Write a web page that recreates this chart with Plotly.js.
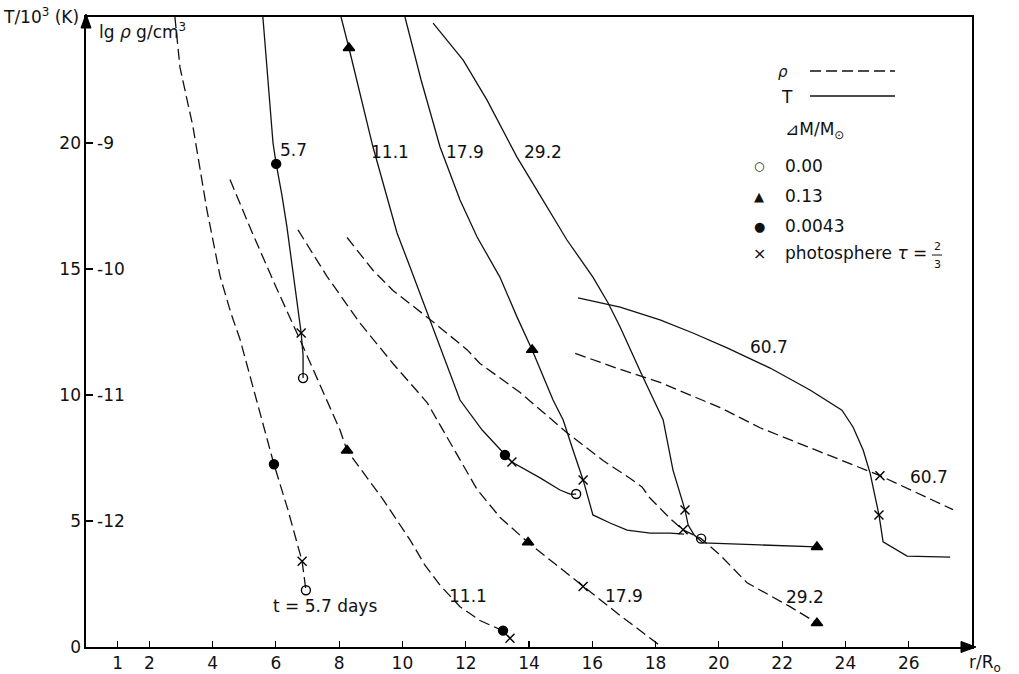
<!DOCTYPE html>
<html><head><meta charset="utf-8">
<script src="https://cdn.plot.ly/plotly-3.0.1.min.js"></script>
<style>body{margin:0;background:#fff}#chart{width:1019px;height:674px}</style>
</head><body><div id="chart"></div>
<script>
// ---- axis ticks ----
const xTicks = [1,2,4,6,8,10,12,14,16,18,20,22,24,26];
const tTicks = [0,5,10,15,20];
const rhoTicks = [-12,-11,-10,-9];
const rhoTickText = ['-12','-11','-10','-9'];

// marker codes: '' none, 'o' dM=0.00, 't' dM=0.13, 'f' dM=0.0043, 'x' photosphere
// ---- temperature curves (r/R0, T/10^3 K) ----
const T57_r = [5.59,5.75,5.91,6.01,6.19,6.35,6.57,6.80,6.86,6.86];
const T57_v = [25.0,22.62,20.0,19.17,17.94,16.67,14.56,12.46,11.59,10.67];
const T57_m = ['','','','f','','','','x','','o'];

const T111_r = [8.06,8.31,9.07,9.83,10.24,10.87,11.41,11.82,12.52,13.24,13.46,14.35,14.98,15.30,15.49];
const T111_v = [25.0,23.77,19.84,16.43,15.08,12.98,11.11,9.80,8.61,7.62,7.34,6.71,6.23,6.07,6.07];
const T111_m = ['','t','','','','','','','','f','x','','','','o'];

const T179_r = [10.08,10.59,11.19,11.82,12.36,13.08,13.62,14.10,14.76,15.08,15.39,15.71,16.02,16.56,17.10,17.83,18.46,18.90];
const T179_v = [25.0,22.5,19.84,17.74,16.27,14.68,13.10,11.79,9.80,9.01,7.82,6.63,5.24,4.92,4.64,4.52,4.52,4.48];
const T179_m = ['','','','','','','','t','','','','x','','','','','',''];

const T292_r = [10.97,11.92,12.67,13.62,14.25,15.20,16.02,16.50,16.88,17.57,18.24,18.55,18.93,19.03,19.22,19.50,21.30,23.10];
const T292_v = [24.76,23.29,21.71,19.44,18.13,16.15,14.68,13.65,12.70,10.79,9.01,7.02,5.44,4.84,4.44,4.13,4.05,3.97];
const T292_m = ['','','','','','','','','','','','','x','','','','','t'];

const T607_r = [15.55,16.88,18.14,19.18,20.26,21.62,22.88,23.89,24.24,24.56,24.78,25.06,25.19,25.95,27.31];
const T607_v = [13.85,13.49,12.98,12.46,11.87,11.07,10.20,9.40,8.73,7.82,6.90,5.24,4.17,3.61,3.57];
const T607_m = ['','','','','','','','','','','','x','','',''];

// ---- density curves (r/R0, lg rho g/cm^3) ----
const R57_r = [2.81,2.97,3.38,3.82,4.24,4.58,4.87,5.66,5.94,6.38,6.83,6.95];
const R57_v = [-8.0,-8.40,-8.87,-9.53,-10.06,-10.35,-10.56,-11.28,-11.55,-11.91,-12.32,-12.55];
const R57_m = ['','','','','','','','','f','','x','o'];

const R111_r = [4.55,5.25,6.0,6.76,8.03,8.25,9.39,10.24,10.71,11.19,11.82,12.45,13.08,13.18,13.40];
const R111_v = [-9.29,-9.71,-10.14,-10.56,-11.28,-11.44,-11.83,-12.15,-12.35,-12.51,-12.68,-12.79,-12.86,-12.87,-12.93];
const R111_m = ['','','','','','t','','','','','','','','f','x'];

const R179_r = [6.70,7.62,8.66,9.70,10.78,11.28,12.36,13.08,13.97,14.82,15.71,16.88,18.2];
const R179_v = [-9.69,-10.06,-10.43,-10.75,-11.06,-11.28,-11.75,-11.97,-12.17,-12.34,-12.52,-12.75,-13.0];
const R179_m = ['','','','','','','','','t','','x','',''];

const R292_r = [8.25,9.07,9.70,10.87,12.04,12.45,13.72,15.20,16.34,17.19,17.57,17.83,18.46,18.87,19.44,20.04,20.89,22.25,23.10];
const R292_v = [-9.75,-10.01,-10.17,-10.40,-10.64,-10.75,-10.98,-11.30,-11.52,-11.66,-11.73,-11.82,-11.98,-12.07,-12.14,-12.27,-12.49,-12.68,-12.81];
const R292_m = ['','','','','','','','','','','','','','x','o','','','','t'];

const R607_r = [15.46,16.81,18.14,20.04,21.30,23.10,25.09,27.40];
const R607_v = [-10.67,-10.79,-10.90,-11.10,-11.26,-11.44,-11.64,-11.91];
const R607_m = ['','','','','','','x',''];

// ---- text ----
const curveLabels = ['5.7','11.1','17.9','29.2','60.7'];
const legendMass = ['0.00','0.13','0.0043'];

// ---- build ----
const INK = '#000000';
const SYM = {'':'circle', o:'circle-open', t:'triangle-up', f:'circle', x:'x-thin-open'};
const SIZE = {'':0, o:9, t:10, f:9, x:9};
function curve(r, v, m, dashed){
  return {
    x: r, y: v, yaxis: dashed ? 'y2' : 'y', type:'scatter', mode:'lines+markers',
    line:{color:'#111', width:1.3, dash: dashed ? '11px,5px' : 'solid'},
    marker:{symbol: m.map(k=>SYM[k]), size: m.map(k=>SIZE[k]), color: INK, opacity:1,
            line:{color:INK, width:1.4}},
    hoverinfo:'skip', showlegend:false, cliponaxis:false
  };
}
const data = [
  curve(T57_r,T57_v,T57_m,false), curve(T111_r,T111_v,T111_m,false),
  curve(T179_r,T179_v,T179_m,false), curve(T292_r,T292_v,T292_m,false),
  curve(T607_r,T607_v,T607_m,false),
  curve(R57_r,R57_v,R57_m,true), curve(R111_r,R111_v,R111_m,true),
  curve(R179_r,R179_v,R179_m,true), curve(R292_r,R292_v,R292_m,true),
  curve(R607_r,R607_v,R607_m,true)
];

const F = 'DejaVu Sans';
const FS = 17;
const fnt = (s)=>({family:F, size:s, color:'#111'});
function txt(x,y,t,opt){ return Object.assign({x:x,y:y,text:t,showarrow:false,font:fnt(FS),xanchor:'center',yanchor:'middle'},opt||{}); }
const P = {xref:'paper', yref:'paper'};
const W = 886, H = 630, L = 86;
const px = (p)=>(p-L)/W, py = (p)=>(647-p)/H;

const annotations = [
  txt(px(41), py(16), 'T/10<sup>3</sup> (K)', P),
  txt(px(97), py(31), 'lg <i>ρ</i> g/cm<sup>3</sup>', Object.assign({xanchor:'left'}, P)),
  txt(px(967), py(664), 'r/R<sub>o</sub>', Object.assign({xanchor:'left'}, P)),
  // curve labels
  txt(6.57, 19.72, curveLabels[0]),
  txt(9.61, 19.64, curveLabels[1]),
  txt(11.98, 19.64, curveLabels[2]),
  txt(14.44, 19.64, curveLabels[3]),
  txt(21.59, 11.90, curveLabels[4]),
  txt(26.64, 6.75, curveLabels[4]),
  txt(12.07, 2.02, curveLabels[1]),
  txt(17.0, 2.02, curveLabels[2]),
  txt(22.72, 1.98, curveLabels[3]),
  txt(5.85, 1.63, 't = 5.7 days', {xanchor:'left'}),
  // legend
  txt(px(783), py(72), '<i>ρ</i>', Object.assign({font:fnt(15)}, P)),
  txt(px(787), py(97), 'T', P),
  txt(px(783), py(130), '⊿M/M<sub>⊙</sub>', Object.assign({xanchor:'left'}, P)),
  txt(px(759), py(166), '○', Object.assign({font:fnt(12)}, P)),
  txt(px(759), py(196), '▲', Object.assign({font:fnt(13)}, P)),
  txt(px(759), py(226), '●', Object.assign({font:fnt(13)}, P)),
  txt(px(759), py(253), '×', Object.assign({font:fnt(16)}, P)),
  txt(px(783), py(166), legendMass[0], Object.assign({xanchor:'left'}, P)),
  txt(px(783), py(196), legendMass[1], Object.assign({xanchor:'left'}, P)),
  txt(px(783), py(226), legendMass[2], Object.assign({xanchor:'left'}, P)),
  txt(px(783), py(253), 'photosphere <i>τ</i> =', Object.assign({xanchor:'left'}, P)),
  txt(px(937), py(246), '2', Object.assign({font:fnt(11)}, P)),
  txt(px(937), py(264), '3', Object.assign({font:fnt(11)}, P))
];
// lg rho scale labels on the inner side of the T axis, placed through the y2 axis
rhoTicks.forEach((v,i)=>{
  annotations.push({x:px(95), xref:'paper', y:v, yref:'y2', text:rhoTickText[i], showarrow:false,
                    xanchor:'left', yanchor:'middle', font:fnt(FS)});
});

const shapes = [
  {type:'line', ...P, x0:px(810), x1:px(895), y0:py(71), y1:py(71), line:{color:'#111',width:1.3,dash:'11px,5px'}},
  {type:'line', ...P, x0:px(810), x1:px(895), y0:py(96), y1:py(96), line:{color:'#111',width:1.3}},
  {type:'line', ...P, x0:px(932), x1:px(942), y0:py(255), y1:py(255), line:{color:'#111',width:1}},
  // axis arrows
  {type:'path', ...P, path:`M ${px(86)} ${py(14)} L ${px(81)} ${py(28)} L ${px(91)} ${py(28)} Z`, fillcolor:INK, line:{color:INK,width:1}},
  {type:'path', ...P, path:`M ${px(976)} ${py(647)} L ${px(961)} ${py(641.5)} L ${px(961)} ${py(652.5)} Z`, fillcolor:INK, line:{color:INK,width:1}}
];

const layout = {
  width:1019, height:674,
  margin:{l:86, r:47, t:17, b:27},
  paper_bgcolor:'#fff', plot_bgcolor:'#fff',
  font:fnt(FS),
  showlegend:false,
  xaxis:{range:[0,28], tickmode:'array', tickvals:xTicks, ticks:'inside', ticklen:6, tickwidth:1.2, tickcolor:INK,
         showline:true, linecolor:INK, linewidth:1.6, mirror:true, showgrid:false, zeroline:false, tickfont:fnt(FS)},
  yaxis:{range:[0,25], tickmode:'array', tickvals:tTicks, ticks:'inside', ticklen:7, tickwidth:1.2, tickcolor:INK,
         showline:true, linecolor:INK, linewidth:1.6, mirror:true, showgrid:false, zeroline:false, tickfont:fnt(FS)},
  yaxis2:{range:[-13,-8], overlaying:'y', side:'left', anchor:'x', visible:false},
  annotations: annotations,
  shapes: shapes
};
Plotly.newPlot('chart', data, layout, {staticPlot:true});
</script></body></html>
